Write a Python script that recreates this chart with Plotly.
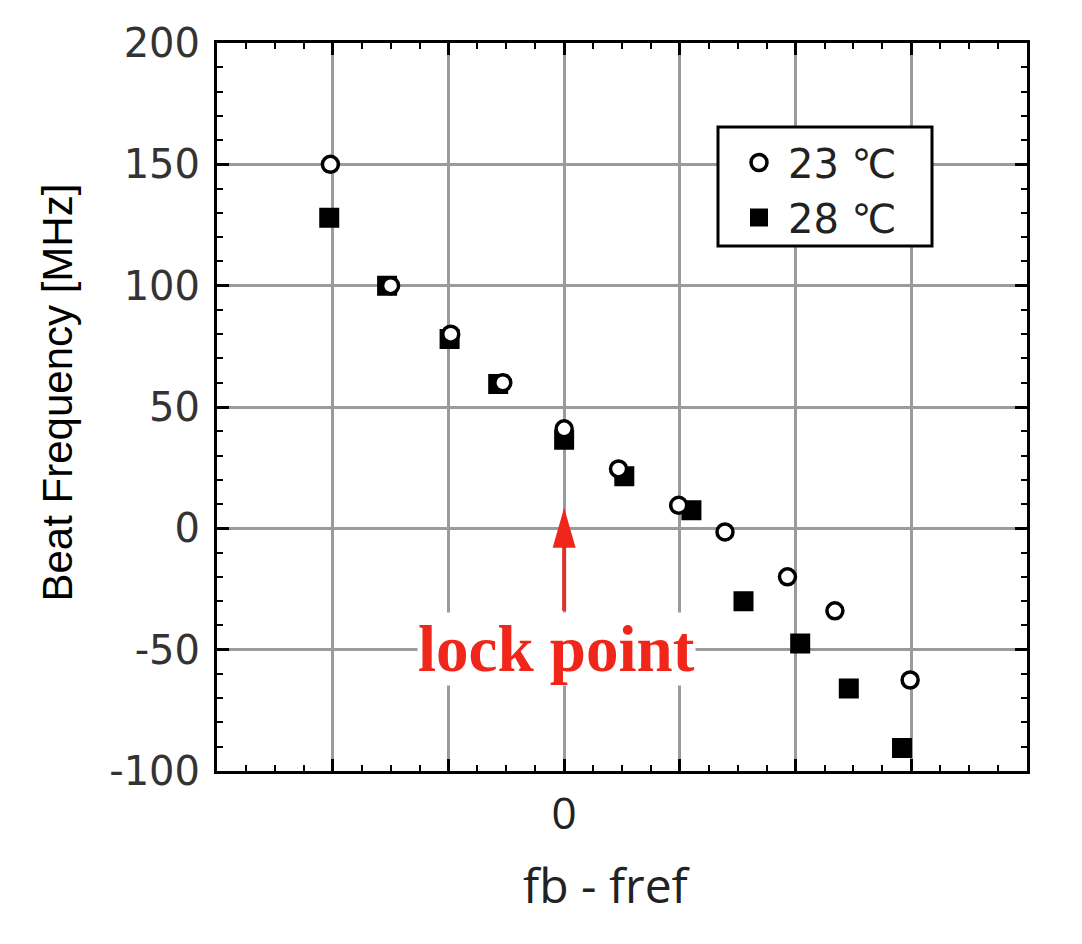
import plotly.graph_objects as go

# ---- data ----
x_23 = [-2.02, -1.50, -0.98, -0.53, 0.00, 0.47, 0.99, 1.39, 1.93, 2.34, 2.99]
y_23 = [150.0, 100.0, 80.0, 60.0, 41.0, 24.5, 9.5, -1.5, -20.0, -34.0, -62.5]

x_28 = [-2.03, -1.53, -0.99, -0.57, 0.00, 0.52, 1.10, 1.55, 2.04, 2.46, 2.92]
y_28 = [128.0, 100.0, 78.0, 59.5, 36.5, 21.5, 7.5, -30.0, -47.5, -66.0, -90.5]

series_names = ["23 \u2103", "28 \u2103"]

x_tick_vals = [-3, -2, -1, 0, 1, 2, 3, 4]
x_tick_text = ["", "", "", "0", "", "", "", ""]
y_tick_vals = [-100, -50, 0, 50, 100, 150, 200]
y_tick_text = ["-100", "-50", "0", "50", "100", "150", "200"]

x_title = "fb - fref"
y_title = "Beat Frequency [MHz]"
lock_label = "lock point"

# annotation anchor values
lock_x, lock_y = -0.07, -49.6
arrow_x, arrow_tip_y, arrow_tail_y, arrow_base_y = 0.0, 8.5, -34.0, -7.0

RED = "#f0261b"

# page body has an 8px default margin; compensate so the plot area sits at
# left 217, top 43, right 1027, bottom 771 in the window
OFF = 8
W, H = 1082 - 2 * OFF, 944 - 2 * OFF
PL, PT, PR, PB = 217, 43, 1027, 771
ML, MT = PL - OFF, PT - OFF
MR, MB = OFF + W - PR, OFF + H - PB
PW, PH = PR - PL, PB - PT

# legend frame (window pixels)
LG_L, LG_T, LG_R, LG_B = 718, 127, 932, 246

fig = go.Figure()
fig.add_trace(go.Scatter(
    x=x_28, y=y_28, mode="markers", name=series_names[1],
    marker=dict(symbol="square", size=18, color="black",
                line=dict(color="black", width=2)),
))
fig.add_trace(go.Scatter(
    x=x_23, y=y_23, mode="markers", name=series_names[0],
    marker=dict(symbol="circle", size=16, color="white",
                line=dict(color="black", width=3.5)),
))

axis_common = dict(
    showline=True, linecolor="black", linewidth=3, mirror="allticks",
    ticks="inside", tickcolor="black", tickwidth=2.5, ticklen=12,
    showgrid=True, gridcolor="#9b9b9b", gridwidth=2.5,
    zeroline=False,
)

fig.update_xaxes(
    range=[-3, 4], tickmode="array", tickvals=x_tick_vals, ticktext=x_tick_text,
    tickfont=dict(family="Open Sans", size=44, color="#222"),
    ticklabelstandoff=2,
    minor=dict(tickmode="linear", tick0=0, dtick=0.25, ticks="inside",
               ticklen=6, tickwidth=2, tickcolor="black", showgrid=False),
    **axis_common,
)
fig.update_yaxes(
    range=[-100, 200], tickmode="array", tickvals=y_tick_vals, ticktext=y_tick_text,
    tickfont=dict(family="DejaVu Sans", size=40, color="#333"),
    ticklabelstandoff=6,
    minor=dict(tickmode="linear", tick0=0, dtick=10, ticks="inside",
               ticklen=6, tickwidth=2, tickcolor="black", showgrid=False),
    **axis_common,
)

fig.add_annotation(
    x=lock_x, y=lock_y, xref="x", yref="y", text="<b>" + lock_label + "</b>",
    showarrow=False, font=dict(family="Liberation Serif", size=65, color=RED),
    bgcolor="white", borderpad=0, xanchor="center", yanchor="middle",
)
fig.add_annotation(
    x=(606.7 - PL) / PW, y=(PB - 885) / PH, xref="paper", yref="paper",
    text=x_title, showarrow=False,
    font=dict(family="Open Sans", size=48, color="#222"),
    xanchor="center", yanchor="middle",
)
fig.add_annotation(
    x=(57 - PL) / PW, y=(PB - 392.5) / PH, xref="paper", yref="paper",
    text=y_title, showarrow=False, textangle=-90,
    font=dict(family="Liberation Sans", size=42, color="black"),
    xanchor="center", yanchor="middle",
)

fig.add_shape(type="line", xref="x", yref="y", x0=arrow_x, x1=arrow_x,
              y0=arrow_tail_y, y1=arrow_base_y,
              line=dict(color="#d9332b", width=4))
fig.add_shape(type="path", xref="x", yref="y", xsizemode="pixel", ysizemode="pixel",
              xanchor=arrow_x, yanchor=arrow_tip_y,
              path="M0,0 L-11.5,-40 L11.5,-40 Z",
              fillcolor=RED, line=dict(width=0))

# legend frame drawn as a white box with black border
fig.add_shape(type="rect", xref="paper", yref="paper",
              x0=(LG_L - PL) / PW, x1=(LG_R - PL) / PW,
              y0=(PB - LG_B) / PH, y1=(PB - LG_T) / PH,
              fillcolor="white", line=dict(color="black", width=3), layer="above")

fig.update_layout(
    width=W, height=H,
    margin=dict(l=ML, r=MR, t=MT, b=MB),
    paper_bgcolor="white", plot_bgcolor="white",
    showlegend=True,
    legend=dict(
        x=(LG_L + 3 - PL) / PW, y=(PB - LG_T - 3) / PH, xanchor="left", yanchor="top",
        bgcolor="rgba(0,0,0,0)", borderwidth=0,
        font=dict(family="DejaVu Sans, Noto Sans CJK JP", size=40, color="#222"),
        traceorder="reversed", itemwidth=48, indentation=9,
    ),
)

fig.write_html("out.html")
